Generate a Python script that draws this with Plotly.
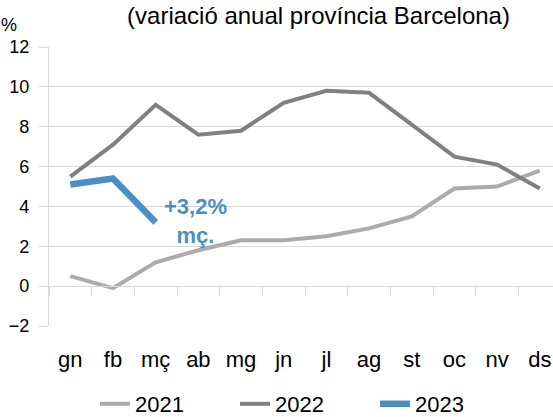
import plotly.graph_objects as go

# month labels (Catalan abbreviations)
months = ["gn", "fb", "mç", "ab", "mg", "jn", "jl", "ag", "st", "oc", "nv", "ds"]

# annual variation, %
vals_2021 = [0.5, -0.1, 1.2, 1.8, 2.3, 2.3, 2.5, 2.9, 3.5, 4.9, 5.0, 5.8]
vals_2022 = [5.5, 7.1, 9.1, 7.6, 7.8, 9.2, 9.8, 9.7, 8.1, 6.5, 6.1, 4.9]
vals_2023 = [5.1, 5.4, 3.2]

FONT = "Arial, Liberation Sans, sans-serif"
GRID = "#D9D9D9"

fig = go.Figure()
fig.add_trace(go.Scatter(x=months, y=vals_2021, mode="lines", name="2021",
                         line=dict(color="#ABABAB", width=4)))
fig.add_trace(go.Scatter(x=months, y=vals_2022, mode="lines", name="2022",
                         line=dict(color="#808080", width=4)))
fig.add_trace(go.Scatter(x=months[:len(vals_2023)], y=vals_2023, mode="lines",
                         name="2023", line=dict(color="#4A8FC6", width=6.5)))

# label for the latest value
fig.add_annotation(x=months[len(vals_2023) - 1], y=vals_2023[-1],
                   xshift=40, yshift=1,
                   text=f"<b>+{vals_2023[-1]:.1f}%".replace(".", ",") + "<br>mç.</b>",
                   showarrow=False, align="center",
                   font=dict(family=FONT, size=22, color="#4A8FC6"))

fig.add_annotation(xref="paper", yref="paper", x=-0.079, y=1.079,
                   xanchor="center", yanchor="middle",
                   text="%", showarrow=False,
                   font=dict(family=FONT, size=18, color="#000000"))

fig.update_layout(
    width=553, height=417,
    margin=dict(l=49, r=0, t=47, b=91),
    paper_bgcolor="white", plot_bgcolor="white",
    font=dict(family=FONT, color="#000000"),
    title=dict(text="(variació anual província Barcelona)",
               xref="container", x=318.5 / 553, xanchor="center",
               yref="container", y=1 - 7 / 417, yanchor="top",
               font=dict(family=FONT, size=24, color="#000000")),
    # category axis crosses at 0, labels pushed down to the bottom
    xaxis=dict(type="category", range=[-0.5, 11.31], anchor="free",
               position=2 / 14, automargin=False, showgrid=False,
               showline=True, linecolor=GRID, linewidth=1.3,
               ticks="outside", tickson="boundaries", ticklen=9,
               tickcolor=GRID, tickwidth=1.3,
               tickfont=dict(size=22), ticklabelstandoff=53),
    yaxis=dict(range=[-2, 12], dtick=2, automargin=False, showgrid=True,
               gridcolor=GRID, gridwidth=1.3, showline=True, linecolor=GRID,
               linewidth=1.3, ticks="outside", ticklen=9, tickcolor=GRID,
               tickwidth=1.3, zeroline=False, tickfont=dict(size=18),
               ticklabelstandoff=6),
    legend=dict(orientation="h", xref="container", x=305 / 553, xanchor="center",
                yref="container", y=1 - 404 / 417, yanchor="middle",
                font=dict(size=22), entrywidth=95),
)

# drop the browser's default body margin so the chart sits at the page corner
fig.write_html("out.html", config={"displayModeBar": False},
               post_script="document.body.style.margin = '0';")
